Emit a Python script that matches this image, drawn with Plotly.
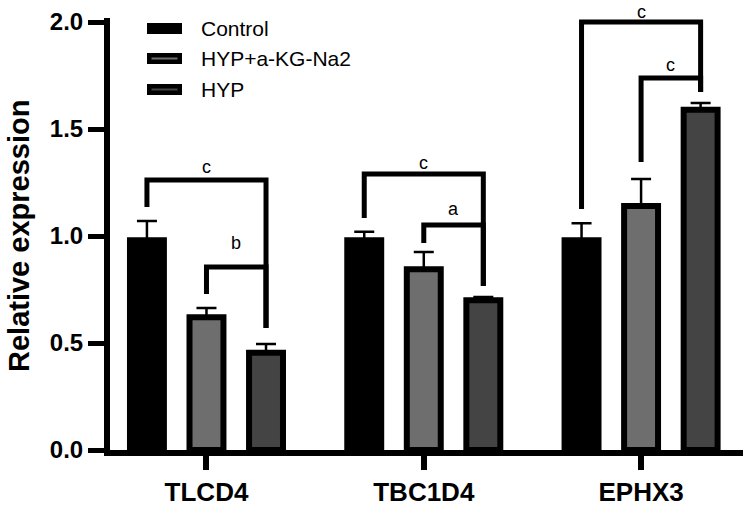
import plotly.graph_objects as go

# ---------------- data ----------------
genes = ["TLCD4", "TBC1D4", "EPHX3"]
groups = ["Control", "HYP+a-KG-Na2", "HYP"]
control = [0.98, 0.98, 0.98]
control_err = [0.09, 0.04, 0.08]
hyp_akg = [0.62, 0.845, 1.14]
hyp_akg_err = [0.044, 0.08, 0.126]
hyp = [0.455, 0.70, 1.59]
hyp_err = [0.04, 0.015, 0.031]
y_tick_vals = [0.0, 0.5, 1.0, 1.5, 2.0]
y_tick_text = ["0.0", "0.5", "1.0", "1.5", "2.0"]

# significance brackets: gene index, from group, to group,
# bracket height, left leg bottom, right leg bottom, label, label height
br_gene = [0, 0, 1, 1, 2, 2]
br_from = [0, 1, 0, 1, 0, 1]
br_to = [2, 2, 2, 2, 2, 2]
br_top = [1.262, 0.855, 1.290, 1.051, 2.0, 1.738]
br_left = [1.136, 0.729, 1.084, 0.967, 1.126, 1.346]
br_right = [0.570, 0.570, 0.766, 0.766, 1.673, 1.673]
br_label = ["c", "b", "c", "a", "c", "c"]
br_label_y = [1.322, 0.967, 1.341, 1.126, 2.047, 1.799]

# ---------------- style ----------------
FONT = "Liberation Sans, Arial, Helvetica, sans-serif"
fills = ["#000000", "#6e6e6e", "#444444"]
W, H = 750, 511
ML, MR, MT, MB = 110, 7, 18, 61
PW, PH = W - ML - MR, H - MT - MB
BARGAP = 0.178
BARGROUPGAP = 0.43
slot = (1 - BARGAP) / 3.0
Y_MAX = PH / 214.0


def px_x(px):
    return (px - ML) / PW


def px_y(py):
    return (H - MB - py) / PH


values = [control, hyp_akg, hyp]
errors = [control_err, hyp_akg_err, hyp_err]
xs = list(range(len(genes)))

fig = go.Figure()
for i, name in enumerate(groups):
    fig.add_trace(go.Bar(
        x=xs, y=values[i], name=name,
        marker=dict(color=fills[i], line=dict(color="#000000", width=6)),
        error_y=dict(type="data", array=errors[i], arrayminus=[0] * len(genes),
                     symmetric=False, color="#000000", thickness=2.5, width=10),
        showlegend=False,
    ))

shapes = []
annotations = []

# brackets
for k in range(len(br_gene)):
    xa = br_gene[k] + (br_from[k] - 1) * slot
    xb = br_gene[k] + (br_to[k] - 1) * slot
    path = "M {0},{1} L {0},{2} L {3},{2} L {3},{4}".format(
        xa, br_left[k], br_top[k], xb, br_right[k])
    shapes.append(dict(type="path", path=path, xref="x", yref="y",
                       line=dict(color="#000000", width=5), layer="above"))
    # label: y given in data units, placed in paper units so it is never hidden
    annotations.append(dict(x=(xa + xb) / 2, y=br_label_y[k] / Y_MAX,
                            xref="x", yref="paper",
                            text=br_label[k], showarrow=False,
                            xanchor="center", yanchor="middle",
                            font=dict(family=FONT, size=18, color="#000000")))

# custom legend
leg_cy = [28.5, 58.5, 89.5]
for i, name in enumerate(groups):
    cy = leg_cy[i]
    shapes.append(dict(type="rect", xref="paper", yref="paper",
                       x0=px_x(149.25), x1=px_x(179.75),
                       y0=px_y(cy + 3.25), y1=px_y(cy - 3.25),
                       fillcolor=fills[i], line=dict(color="#000000", width=4.5)))
    annotations.append(dict(x=px_x(199), y=px_y(cy), xref="paper", yref="paper",
                            text=name, showarrow=False, xanchor="left", yanchor="middle",
                            font=dict(family=FONT, size=21, color="#000000")))

# y-axis title
annotations.append(dict(x=px_x(19), y=px_y(236), xref="paper", yref="paper",
                        text="Relative expression", textangle=-90, showarrow=False,
                        xanchor="center", yanchor="middle",
                        font=dict(family=FONT, size=29, color="#000000", weight="bold")))

x_min = -0.444
x_max = x_min + PW / 217.3

fig.update_layout(
    width=W, height=H,
    margin=dict(l=ML, r=MR, t=MT, b=MB, pad=0, autoexpand=False),
    paper_bgcolor="white", plot_bgcolor="white",
    barmode="group", bargap=BARGAP, bargroupgap=BARGROUPGAP,
    shapes=shapes, annotations=annotations,
    hovermode=False,
    xaxis=dict(range=[x_min, x_max], tickmode="array", tickvals=xs, ticktext=genes,
               showline=True, linecolor="#000000", linewidth=6, automargin=False,
               ticks="outside", ticklen=14, tickwidth=6, tickcolor="#000000",
               showgrid=False, zeroline=False,
               tickfont=dict(family=FONT, size=26, color="#000000", weight="bold")),
    yaxis=dict(range=[0, Y_MAX], tickmode="array", tickvals=y_tick_vals,
               ticktext=y_tick_text, automargin=False,
               showline=True, linecolor="#000000", linewidth=6,
               ticks="outside", ticklen=16, tickwidth=5, tickcolor="#000000",
               showgrid=False, zeroline=False,
               tickfont=dict(family=FONT, size=24, color="#000000", weight="bold")),
)

fig.write_html("out.html",
               config={"displayModeBar": False, "staticPlot": True},
               post_script="document.body.style.margin='0px';document.body.style.padding='0px';")
